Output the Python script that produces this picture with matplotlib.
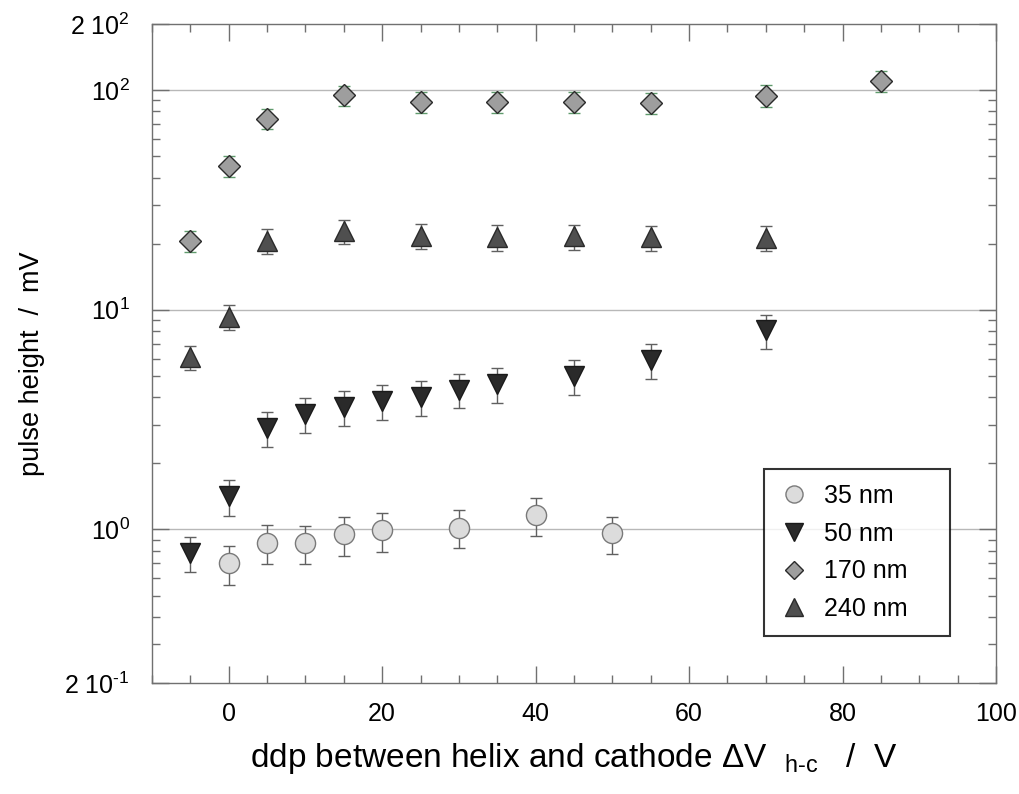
import matplotlib
matplotlib.use('Agg')
import matplotlib.pyplot as plt
from matplotlib.ticker import FixedLocator, NullFormatter, MultipleLocator
from matplotlib.lines import Line2D

plt.rcParams['font.family'] = ['Liberation Sans', 'DejaVu Sans']
plt.rcParams['mathtext.fontset'] = 'custom'
plt.rcParams['mathtext.rm'] = 'Liberation Sans'

# 35 nm
x35 = [0, 5, 10, 15, 20, 30, 40, 50]
y35 = [0.70, 0.87, 0.865, 0.95, 0.99, 1.02, 1.16, 0.96]
e35 = [0.14, 0.175, 0.17, 0.19, 0.2, 0.2, 0.23, 0.185]

# 50 nm
x50 = [-5, 0, 5, 10, 15, 20, 25, 30, 35, 45, 55, 70]
y50 = [0.78, 1.415, 2.9, 3.35, 3.6, 3.84, 4.0, 4.33, 4.6, 5.0, 5.92, 8.06]
e50 = [0.14, 0.26, 0.52, 0.6, 0.65, 0.69, 0.72, 0.77, 0.84, 0.9, 1.06, 1.45]

# 170 nm
x170 = [-5, 0, 5, 15, 25, 35, 45, 55, 70, 85]
y170 = [20.5, 45.3, 74.2, 94.6, 88.6, 88.6, 88.5, 87.2, 94.5, 109.6]
e170 = [2.25, 4.9, 8.0, 10.3, 9.6, 9.6, 9.5, 9.4, 10.5, 12.0]

# 240 nm
x240 = [-5, 0, 5, 15, 25, 35, 45, 55, 70]
y240 = [6.07, 9.29, 20.6, 22.8, 21.7, 21.4, 21.6, 21.35, 21.2]
e240 = [0.77, 1.22, 2.7, 2.9, 2.8, 2.8, 2.8, 2.75, 2.75]

series = [
    ('35 nm', x35, y35, e35, 'o', '#dcdcdc', '#7a7a7a', 14.5, '#606060'),
    ('50 nm', x50, y50, e50, 'v', '#2a2a2a', '#1a1a1a', 14.5, '#606060'),
    ('170 nm', x170, y170, e170, 'D', '#9e9e9e', '#2a2a2a', 11, '#5f9a6c'),
    ('240 nm', x240, y240, e240, '^', '#4f4f4f', '#2a2a2a', 14.5, '#606060'),
]

fig = plt.figure(figsize=(10.2, 7.94), dpi=100)
ax = fig.add_axes([0.149, 0.1398, 0.8275, 0.83])

handles = []
for label, x, y, e, m, fc, ec, ms, capc in series:
    ax.errorbar(x, y, yerr=e, fmt='none', ecolor=capc, elinewidth=1.0,
                capsize=4, capthick=1.0, zorder=2)
    ax.plot(x, y, linestyle='none', marker=m, markersize=ms,
            markerfacecolor=fc, markeredgecolor=ec, markeredgewidth=1.0, zorder=3)
    handles.append(Line2D([], [], linestyle='none', marker=m, markersize=ms * 0.85,
                          markerfacecolor=fc, markeredgecolor=ec, markeredgewidth=1.0,
                          label=label))

ax.set_yscale('log')
ax.set_xlim(-10, 100)
ax.set_ylim(0.2, 200)

# y ticks
ax.yaxis.set_major_locator(FixedLocator([0.2, 1, 10, 100, 200]))
ax.set_yticklabels(['2 10$^{\\mathregular{\u20101}}$', r'10$^{0}$', r'10$^{1}$',
                    r'10$^{2}$', r'2 10$^{2}$'])
minors = []
for dec in [0.1, 1, 10, 100]:
    for k in range(2, 10):
        v = k * dec
        if 0.2 < v < 200:
            minors.append(v)
ax.yaxis.set_minor_locator(FixedLocator(minors))
ax.yaxis.set_minor_formatter(NullFormatter())

ax.xaxis.set_major_locator(MultipleLocator(20))
ax.xaxis.set_minor_locator(MultipleLocator(5))

for yv in [1, 10, 100]:
    ax.axhline(yv, color='#b8b8b8', linewidth=1.0, zorder=1)

ax.tick_params(which='both', direction='in', top=True, right=True, color='#707070')
ax.tick_params(which='major', length=12, width=1.0, labelsize=18)
ax.tick_params(which='minor', length=6, width=1.0)
ax.tick_params(axis='x', which='major', pad=14)
ax.tick_params(axis='y', which='major', pad=16)
for s in ax.spines.values():
    s.set_color('#707070')
    s.set_linewidth(1.0)

ax.set_xlabel('ddp between helix and cathode \u0394V  $_{\\mathregular{h\u2010c}}$   /  V',
              fontsize=24)
ax.xaxis.set_label_coords(0.5, -0.088)
ax.set_ylabel('pulse height  /  mV', fontsize=19.5)
ax.yaxis.set_label_coords(-0.127, 0.484)

leg = ax.legend(handles=handles, loc='upper left',
                bbox_to_anchor=(0.725, 0.075, 0.2204, 0.25), mode='expand',
                fontsize=18, frameon=True, fancybox=False, handletextpad=0.6,
                borderpad=0.6, labelspacing=0.55, handlelength=1.2,
                borderaxespad=0)
leg.get_frame().set_edgecolor('black')
leg.get_frame().set_linewidth(1.5)

fig.savefig('out.png', dpi=100)
